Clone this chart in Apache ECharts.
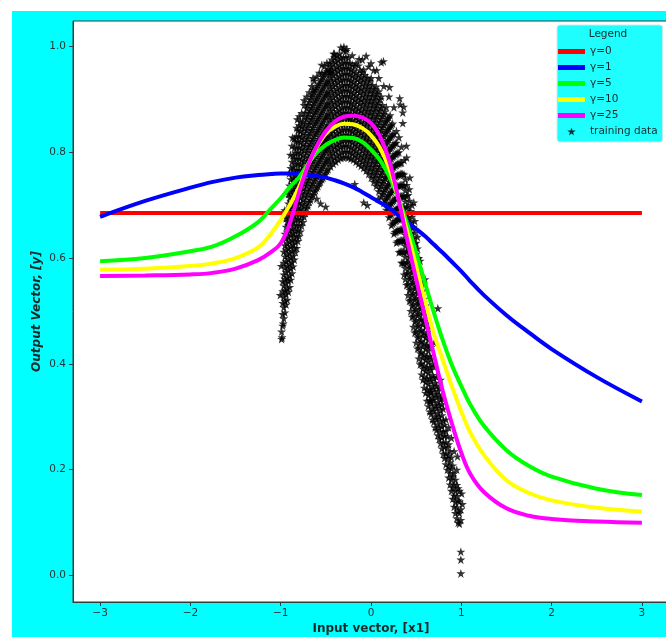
<!DOCTYPE html>
<html>
<head>
<meta charset="utf-8">
<script src="https://cdn.jsdelivr.net/npm/echarts@6/dist/echarts.min.js"></script>
<style>
  html, body { margin: 0; padding: 0; background: #ffffff; overflow: hidden; width: 666px; height: 637px; }
  #chart { position: absolute; left: 12px; top: 11px; width: 660px; height: 626px; background: #00ffff; }
</style>
</head>
<body>
<div id="chart"></div>
<script>
// Model outputs evaluated on a grid of x1 values
const xGrid = [-3, -2.5, -2, -1.75, -1.5, -1.25, -1.1, -1.0, -0.9, -0.8, -0.7, -0.6, -0.5, -0.4, -0.3, -0.2, -0.1, 0, 0.1, 0.2, 0.3, 0.4, 0.5, 0.6, 0.7, 0.8, 0.9, 1.0, 1.1, 1.25, 1.5, 1.75, 2, 2.5, 3];
const xEnds = [-3, 3];
const gamma0 = [0.685, 0.685];
const gamma1 = [0.678, 0.708, 0.733, 0.744, 0.752, 0.757, 0.759, 0.760, 0.760, 0.759, 0.757, 0.755, 0.752, 0.747, 0.741, 0.734, 0.725, 0.715, 0.705, 0.695, 0.681, 0.668, 0.655, 0.641, 0.625, 0.609, 0.592, 0.575, 0.556, 0.530, 0.492, 0.459, 0.428, 0.375, 0.329];
const gamma5 = [0.594, 0.600, 0.613, 0.622, 0.641, 0.668, 0.695, 0.713, 0.734, 0.752, 0.777, 0.799, 0.814, 0.823, 0.828, 0.827, 0.820, 0.805, 0.785, 0.755, 0.715, 0.665, 0.610, 0.552, 0.495, 0.442, 0.396, 0.358, 0.323, 0.283, 0.237, 0.207, 0.187, 0.164, 0.152];
const gamma10 = [0.578, 0.580, 0.585, 0.590, 0.600, 0.620, 0.648, 0.672, 0.700, 0.733, 0.775, 0.810, 0.835, 0.848, 0.854, 0.853, 0.846, 0.832, 0.808, 0.770, 0.715, 0.650, 0.585, 0.518, 0.455, 0.405, 0.355, 0.310, 0.270, 0.228, 0.180, 0.156, 0.142, 0.128, 0.121];
const gamma25 = [0.566, 0.567, 0.569, 0.572, 0.580, 0.596, 0.612, 0.628, 0.665, 0.722, 0.774, 0.812, 0.840, 0.858, 0.867, 0.869, 0.866, 0.855, 0.830, 0.785, 0.715, 0.635, 0.560, 0.487, 0.415, 0.345, 0.285, 0.232, 0.192, 0.158, 0.127, 0.113, 0.107, 0.102, 0.100];

// Training samples, grouped by x1 value: [x1, [y, y, ...]]
const trainingColumns = [
  [-0.990, [0.447, 0.461]],
  [-0.978, [0.472, 0.494, 0.515, 0.537, 0.556]],
  [-0.966, [0.486, 0.507, 0.527, 0.548, 0.569, 0.591, 0.612]],
  [-0.953, [0.497, 0.519, 0.539, 0.561, 0.582, 0.603, 0.624, 0.646]],
  [-0.940, [0.512, 0.532, 0.553, 0.574, 0.594, 0.616, 0.637, 0.659, 0.675]],
  [-0.927, [0.521, 0.543, 0.563, 0.585, 0.607, 0.628, 0.648, 0.669, 0.691]],
  [-0.914, [0.536, 0.557, 0.578, 0.598, 0.619, 0.641, 0.662, 0.682, 0.703, 0.721]],
  [-0.901, [0.545, 0.567, 0.589, 0.610, 0.631, 0.652, 0.673, 0.694, 0.715, 0.737]],
  [-0.888, [0.559, 0.581, 0.601, 0.622, 0.644, 0.665, 0.686, 0.707, 0.727, 0.749, 0.770]],
  [-0.875, [0.571, 0.592, 0.613, 0.634, 0.655, 0.676, 0.697, 0.718, 0.740, 0.761, 0.782, 0.812]],
  [-0.862, [0.584, 0.604, 0.626, 0.647, 0.668, 0.689, 0.710, 0.731, 0.752, 0.773, 0.794]],
  [-0.849, [0.597, 0.619, 0.640, 0.661, 0.682, 0.703, 0.724, 0.745, 0.766, 0.787, 0.808, 0.826]],
  [-0.836, [0.611, 0.631, 0.652, 0.673, 0.694, 0.715, 0.736, 0.757, 0.778, 0.799, 0.820]],
  [-0.823, [0.619, 0.641, 0.662, 0.683, 0.704, 0.725, 0.746, 0.767, 0.788, 0.809, 0.830, 0.846]],
  [-0.810, [0.632, 0.652, 0.673, 0.694, 0.715, 0.736, 0.757, 0.778, 0.799, 0.820, 0.841]],
  [-0.796, [0.641, 0.662, 0.683, 0.704, 0.725, 0.746, 0.767, 0.788, 0.809, 0.830, 0.851, 0.868]],
  [-0.782, [0.650, 0.672, 0.693, 0.714, 0.735, 0.756, 0.777, 0.798, 0.819, 0.840, 0.858]],
  [-0.768, [0.661, 0.681, 0.702, 0.723, 0.744, 0.765, 0.786, 0.807, 0.828, 0.849, 0.874]],
  [-0.754, [0.668, 0.690, 0.711, 0.732, 0.753, 0.774, 0.795, 0.816, 0.837, 0.858]],
  [-0.740, [0.678, 0.699, 0.720, 0.741, 0.762, 0.783, 0.804, 0.825, 0.846, 0.867, 0.889]],
  [-0.726, [0.685, 0.707, 0.728, 0.749, 0.770, 0.791, 0.812, 0.833, 0.854, 0.875]],
  [-0.712, [0.694, 0.715, 0.736, 0.757, 0.778, 0.799, 0.820, 0.841, 0.862, 0.883, 0.905]],
  [-0.698, [0.699, 0.721, 0.742, 0.763, 0.784, 0.805, 0.826, 0.847, 0.868, 0.889]],
  [-0.684, [0.706, 0.727, 0.748, 0.769, 0.790, 0.811, 0.832, 0.853, 0.874, 0.895, 0.913]],
  [-0.670, [0.710, 0.732, 0.753, 0.774, 0.795, 0.816, 0.837, 0.858, 0.879, 0.900]],
  [-0.656, [0.716, 0.737, 0.758, 0.779, 0.800, 0.821, 0.842, 0.863, 0.884, 0.905, 0.925]],
  [-0.642, [0.719, 0.741, 0.762, 0.783, 0.804, 0.825, 0.846, 0.867, 0.888, 0.909, 0.918]],
  [-0.628, [0.725, 0.746, 0.767, 0.788, 0.809, 0.830, 0.851, 0.872, 0.893, 0.914, 0.935]],
  [-0.614, [0.728, 0.750, 0.771, 0.792, 0.813, 0.834, 0.855, 0.876, 0.897, 0.918]],
  [-0.600, [0.733, 0.754, 0.775, 0.796, 0.817, 0.838, 0.859, 0.880, 0.901, 0.922, 0.943]],
  [-0.586, [0.736, 0.758, 0.779, 0.800, 0.821, 0.842, 0.863, 0.884, 0.905, 0.926]],
  [-0.572, [0.741, 0.762, 0.783, 0.804, 0.825, 0.846, 0.867, 0.888, 0.909, 0.930, 0.950]],
  [-0.558, [0.703, 0.744, 0.766, 0.787, 0.808, 0.829, 0.850, 0.871, 0.892, 0.913, 0.934]],
  [-0.544, [0.749, 0.770, 0.791, 0.812, 0.833, 0.854, 0.875, 0.896, 0.917, 0.938, 0.950]],
  [-0.530, [0.752, 0.774, 0.795, 0.816, 0.837, 0.858, 0.879, 0.900, 0.921, 0.942]],
  [-0.516, [0.757, 0.778, 0.799, 0.820, 0.841, 0.862, 0.883, 0.904, 0.925, 0.946, 0.963]],
  [-0.502, [0.697, 0.760, 0.782, 0.803, 0.824, 0.845, 0.866, 0.887, 0.908, 0.929, 0.950]],
  [-0.488, [0.765, 0.786, 0.807, 0.828, 0.849, 0.870, 0.891, 0.912, 0.933, 0.954, 0.969]],
  [-0.474, [0.768, 0.789, 0.810, 0.831, 0.852, 0.873, 0.894, 0.915, 0.936, 0.957]],
  [-0.460, [0.779, 0.800, 0.821, 0.842, 0.863, 0.884, 0.905, 0.926, 0.947, 0.968]],
  [-0.446, [0.773, 0.794, 0.815, 0.836, 0.857, 0.878, 0.899, 0.920, 0.941, 0.962, 0.952]],
  [-0.432, [0.786, 0.807, 0.828, 0.849, 0.870, 0.891, 0.912, 0.933, 0.954, 0.975]],
  [-0.418, [0.778, 0.799, 0.820, 0.841, 0.862, 0.883, 0.904, 0.925, 0.946, 0.967]],
  [-0.404, [0.790, 0.811, 0.832, 0.853, 0.874, 0.895, 0.916, 0.937, 0.958, 0.979, 0.986]],
  [-0.390, [0.782, 0.803, 0.824, 0.845, 0.866, 0.887, 0.908, 0.929, 0.950, 0.971]],
  [-0.376, [0.794, 0.815, 0.836, 0.857, 0.878, 0.899, 0.920, 0.941, 0.962, 0.983]],
  [-0.362, [0.786, 0.807, 0.828, 0.849, 0.870, 0.891, 0.912, 0.933, 0.954, 0.975]],
  [-0.348, [0.797, 0.818, 0.839, 0.860, 0.881, 0.902, 0.923, 0.944, 0.965, 0.986]],
  [-0.334, [0.789, 0.810, 0.831, 0.852, 0.873, 0.894, 0.915, 0.936, 0.957, 0.978, 0.998]],
  [-0.320, [0.800, 0.821, 0.842, 0.863, 0.884, 0.905, 0.926, 0.947, 0.968]],
  [-0.306, [0.790, 0.811, 0.832, 0.853, 0.874, 0.895, 0.916, 0.937, 0.958, 0.979, 0.993]],
  [-0.292, [0.801, 0.822, 0.843, 0.864, 0.885, 0.906, 0.927, 0.948, 0.969]],
  [-0.278, [0.791, 0.812, 0.833, 0.854, 0.875, 0.896, 0.917, 0.938, 0.959, 0.980, 0.991]],
  [-0.264, [0.801, 0.822, 0.843, 0.864, 0.885, 0.906, 0.927, 0.948, 0.969]],
  [-0.250, [0.790, 0.811, 0.832, 0.853, 0.874, 0.895, 0.916, 0.937, 0.958, 0.979]],
  [-0.236, [0.800, 0.821, 0.842, 0.863, 0.884, 0.905, 0.926, 0.947, 0.968]],
  [-0.222, [0.788, 0.809, 0.830, 0.851, 0.872, 0.893, 0.914, 0.935, 0.956]],
  [-0.208, [0.798, 0.819, 0.840, 0.861, 0.882, 0.903, 0.924, 0.945, 0.966, 0.983]],
  [-0.194, [0.786, 0.807, 0.828, 0.849, 0.870, 0.891, 0.912, 0.933, 0.954]],
  [-0.180, [0.795, 0.816, 0.837, 0.858, 0.879, 0.900, 0.921, 0.942, 0.963]],
  [-0.166, [0.782, 0.803, 0.824, 0.845, 0.866, 0.887, 0.908, 0.929, 0.950, 0.968]],
  [-0.152, [0.791, 0.812, 0.833, 0.854, 0.875, 0.896, 0.917, 0.938]],
  [-0.138, [0.778, 0.799, 0.820, 0.841, 0.862, 0.883, 0.904, 0.925, 0.946, 0.964]],
  [-0.124, [0.787, 0.808, 0.829, 0.850, 0.871, 0.892, 0.913, 0.934, 0.955]],
  [-0.110, [0.774, 0.795, 0.816, 0.837, 0.858, 0.879, 0.900, 0.921, 0.942]],
  [-0.096, [0.783, 0.804, 0.825, 0.846, 0.867, 0.888, 0.909, 0.930, 0.951, 0.975]],
  [-0.082, [0.770, 0.791, 0.812, 0.833, 0.854, 0.875, 0.896, 0.917, 0.938, 0.956]],
  [-0.068, [0.778, 0.799, 0.820, 0.841, 0.862, 0.883, 0.904, 0.925, 0.946]],
  [-0.054, [0.765, 0.786, 0.807, 0.828, 0.849, 0.870, 0.891, 0.912, 0.933, 0.982]],
  [-0.040, [0.700, 0.773, 0.794, 0.815, 0.836, 0.857, 0.878, 0.899, 0.920, 0.941]],
  [-0.026, [0.759, 0.780, 0.801, 0.822, 0.843, 0.864, 0.885, 0.906, 0.927, 0.962]],
  [-0.012, [0.767, 0.788, 0.809, 0.830, 0.851, 0.872, 0.893, 0.914, 0.935]],
  [0.002, [0.752, 0.773, 0.794, 0.815, 0.836, 0.857, 0.878, 0.899, 0.920, 0.940]],
  [0.016, [0.759, 0.780, 0.801, 0.822, 0.843, 0.864, 0.885, 0.906, 0.927]],
  [0.030, [0.744, 0.765, 0.786, 0.807, 0.828, 0.849, 0.870, 0.891, 0.912, 0.955]],
  [0.044, [0.751, 0.772, 0.793, 0.814, 0.835, 0.856, 0.877, 0.898, 0.919]],
  [0.058, [0.736, 0.757, 0.778, 0.799, 0.820, 0.841, 0.862, 0.883, 0.904, 0.924]],
  [0.072, [0.742, 0.763, 0.784, 0.805, 0.826, 0.847, 0.868, 0.889, 0.910]],
  [0.086, [0.726, 0.747, 0.768, 0.789, 0.810, 0.831, 0.852, 0.873, 0.894, 0.915, 0.940]],
  [0.100, [0.732, 0.753, 0.774, 0.795, 0.816, 0.837, 0.858, 0.879, 0.900]],
  [0.114, [0.716, 0.737, 0.758, 0.779, 0.800, 0.821, 0.842, 0.863, 0.884, 0.905, 0.970]],
  [0.128, [0.721, 0.742, 0.763, 0.784, 0.805, 0.826, 0.847, 0.868, 0.889]],
  [0.142, [0.704, 0.725, 0.746, 0.767, 0.788, 0.809, 0.830, 0.851, 0.872, 0.925]],
  [0.156, [0.709, 0.730, 0.751, 0.772, 0.793, 0.814, 0.835, 0.856, 0.877]],
  [0.170, [0.691, 0.712, 0.733, 0.754, 0.775, 0.796, 0.817, 0.838, 0.859, 0.885]],
  [0.184, [0.695, 0.716, 0.737, 0.758, 0.779, 0.800, 0.821, 0.842, 0.863]],
  [0.198, [0.677, 0.698, 0.719, 0.740, 0.761, 0.782, 0.803, 0.824, 0.845, 0.866, 0.905]],
  [0.212, [0.681, 0.702, 0.723, 0.744, 0.765, 0.786, 0.807, 0.828, 0.849, 0.870]],
  [0.226, [0.662, 0.683, 0.704, 0.725, 0.746, 0.767, 0.788, 0.809, 0.830, 0.851]],
  [0.240, [0.665, 0.686, 0.707, 0.728, 0.749, 0.770, 0.791, 0.812, 0.833, 0.854]],
  [0.254, [0.646, 0.667, 0.688, 0.709, 0.730, 0.751, 0.772, 0.793, 0.814, 0.835, 0.885]],
  [0.268, [0.649, 0.670, 0.691, 0.712, 0.733, 0.754, 0.775, 0.796, 0.817]],
  [0.282, [0.629, 0.650, 0.671, 0.692, 0.713, 0.734, 0.755, 0.776, 0.797, 0.818, 0.840]],
  [0.296, [0.631, 0.652, 0.673, 0.694, 0.715, 0.736, 0.757, 0.778, 0.799]],
  [0.310, [0.611, 0.632, 0.653, 0.674, 0.695, 0.716, 0.737, 0.758, 0.779, 0.800, 0.828]],
  [0.324, [0.612, 0.633, 0.654, 0.675, 0.696, 0.717, 0.738, 0.759, 0.780, 0.890]],
  [0.338, [0.591, 0.612, 0.633, 0.654, 0.675, 0.696, 0.717, 0.738, 0.759, 0.780, 0.810]],
  [0.352, [0.591, 0.612, 0.633, 0.654, 0.675, 0.696, 0.717, 0.738, 0.759, 0.855, 0.875]],
  [0.366, [0.569, 0.590, 0.611, 0.632, 0.653, 0.674, 0.695, 0.716, 0.737, 0.758, 0.785]],
  [0.380, [0.560, 0.581, 0.602, 0.623, 0.644, 0.665, 0.686, 0.707, 0.728, 0.749]],
  [0.395, [0.549, 0.570, 0.591, 0.612, 0.633, 0.654, 0.675, 0.696, 0.717, 0.738, 0.790]],
  [0.410, [0.530, 0.551, 0.572, 0.593, 0.614, 0.635, 0.656, 0.677, 0.698, 0.719]],
  [0.425, [0.519, 0.540, 0.561, 0.582, 0.603, 0.624, 0.645, 0.666, 0.687, 0.708, 0.730]],
  [0.440, [0.500, 0.521, 0.542, 0.563, 0.584, 0.605, 0.626, 0.647, 0.668, 0.689]],
  [0.455, [0.489, 0.510, 0.531, 0.552, 0.573, 0.594, 0.615, 0.636, 0.657, 0.678, 0.700]],
  [0.470, [0.470, 0.491, 0.512, 0.533, 0.554, 0.575, 0.596, 0.617, 0.638, 0.659]],
  [0.485, [0.459, 0.480, 0.501, 0.522, 0.543, 0.564, 0.585, 0.606, 0.627, 0.648, 0.670]],
  [0.500, [0.440, 0.461, 0.482, 0.503, 0.524, 0.545, 0.566, 0.587, 0.608, 0.629]],
  [0.515, [0.429, 0.450, 0.471, 0.492, 0.513, 0.534, 0.555, 0.576, 0.597, 0.618, 0.640]],
  [0.530, [0.410, 0.431, 0.452, 0.473, 0.494, 0.515, 0.536, 0.557, 0.578, 0.600]],
  [0.545, [0.399, 0.420, 0.441, 0.462, 0.483, 0.504, 0.525, 0.546, 0.567, 0.595]],
  [0.560, [0.380, 0.401, 0.422, 0.443, 0.464, 0.485, 0.506, 0.527, 0.548]],
  [0.575, [0.370, 0.391, 0.412, 0.433, 0.454, 0.475, 0.496, 0.517, 0.538, 0.555]],
  [0.590, [0.355, 0.376, 0.397, 0.418, 0.439, 0.460, 0.481, 0.502, 0.523]],
  [0.605, [0.345, 0.366, 0.387, 0.408, 0.429, 0.450, 0.471, 0.492, 0.510]],
  [0.620, [0.330, 0.351, 0.372, 0.393, 0.414, 0.435, 0.456, 0.477]],
  [0.635, [0.320, 0.341, 0.362, 0.383, 0.404, 0.425, 0.446, 0.467]],
  [0.650, [0.310, 0.331, 0.352, 0.373, 0.394, 0.415, 0.436]],
  [0.665, [0.305, 0.326, 0.347, 0.368, 0.389, 0.410, 0.432]],
  [0.680, [0.295, 0.316, 0.337, 0.358, 0.379, 0.400]],
  [0.695, [0.290, 0.311, 0.332, 0.353, 0.374, 0.395]],
  [0.710, [0.280, 0.301, 0.322, 0.343, 0.364]],
  [0.725, [0.275, 0.296, 0.317, 0.338, 0.359, 0.375]],
  [0.740, [0.265, 0.286, 0.307, 0.328, 0.349, 0.505]],
  [0.755, [0.258, 0.279, 0.300, 0.321, 0.342, 0.355]],
  [0.770, [0.250, 0.271, 0.292, 0.313, 0.334]],
  [0.785, [0.240, 0.261, 0.282, 0.303, 0.324, 0.335]],
  [0.800, [0.230, 0.251, 0.272, 0.293, 0.315]],
  [0.815, [0.222, 0.243, 0.264, 0.285]],
  [0.830, [0.210, 0.231, 0.252, 0.273, 0.295]],
  [0.845, [0.200, 0.221, 0.242, 0.263]],
  [0.860, [0.185, 0.206, 0.227, 0.248, 0.280]],
  [0.875, [0.172, 0.193, 0.214, 0.235]],
  [0.890, [0.160, 0.181, 0.202, 0.223, 0.260]],
  [0.905, [0.145, 0.166, 0.187, 0.208]],
  [0.920, [0.130, 0.151, 0.172, 0.193, 0.235]],
  [0.935, [0.118, 0.139, 0.160, 0.181]],
  [0.950, [0.108, 0.129, 0.150, 0.171, 0.200]],
  [0.965, [0.100, 0.121, 0.142, 0.165]],
  [0.980, [0.098, 0.118, 0.140, 0.160]],
  [0.995, [0.004, 0.030, 0.045, 0.105, 0.125]]
];
// Samples lying away from the main band
const trainingStrays = [
  [-0.985, 0.450], [-0.972, 0.476], [-1.005, 0.530], [-0.995, 0.585], [-0.955, 0.690],
  [-0.905, 0.760], [-0.892, 0.795], [-0.868, 0.828], [-0.816, 0.862], [-0.74, 0.898],
  [-0.642, 0.940], [-0.545, 0.965], [-0.452, 0.952], [-0.415, 0.986], [-0.300, 0.999],
  [-0.268, 0.995], [-0.132, 0.976], [0.000, 0.968], [0.138, 0.972], [0.063, 0.955],
  [0.205, 0.923], [0.318, 0.902], [0.362, 0.886], [0.392, 0.812], [0.430, 0.752],
  [0.474, 0.705], [0.660, 0.346], [0.662, 0.330], [0.598, 0.560], [0.700, 0.440],
  [0.770, 0.370], [0.958, 0.225], [1.012, 0.135], [1.004, 0.155], [-0.080, 0.705],
  [-0.600, 0.712], [-0.180, 0.740], [0.080, 0.712]
];

const xTicks = [-3, -2, -1, 0, 1, 2, 3];
const yTicks = [0, 0.2, 0.4, 0.6, 0.8, 1.0];
const seriesNames = ['\u03b3=0', '\u03b3=1', '\u03b3=5', '\u03b3=10', '\u03b3=25'];
const seriesColors = ['#ff0000', '#0000ff', '#00ff00', '#ffff00', '#ff00ff'];

const STAR = 'path://M1,0L1.2245,0.691L1.951,0.691L1.363,1.118L1.588,1.809L1,1.382L0.412,1.809L0.637,1.118L0.049,0.691L0.7755,0.691Z';
const BAR = 'path://M0,0H27V5H0Z';
const FONT = 'DejaVu Sans';
const TXT = '#263838';

function pairs(xs, ys) { return xs.map((x, i) => [x, ys[i]]); }
const trainingPoints = [];
trainingColumns.forEach(([x, ys]) => ys.forEach(y => trainingPoints.push([x, y])));
trainingStrays.forEach(p => trainingPoints.push(p));

const fmtMinus = v => (v < 0 ? '\u2212' + Math.abs(v) : String(v));

const curves = [gamma0, gamma1, gamma5, gamma10, gamma25];
const lineSeries = curves.map((ys, i) => ({
  name: seriesNames[i],
  type: 'line',
  data: i === 0 ? pairs(xEnds, ys) : pairs(xGrid, ys),
  symbol: 'none',
  smooth: 0.4,
  lineStyle: { color: seriesColors[i], width: 4 },
  itemStyle: { color: seriesColors[i] },
  z: 3 + i,
  silent: true
}));

const chart = echarts.init(document.getElementById('chart'), null, { renderer: 'canvas', width: 660, height: 626 });
chart.setOption({
  animation: false,
  backgroundColor: 'transparent',
  grid: {
    left: 61, width: 596, top: 10, height: 581,
    outerBoundsMode: 'none',
    show: true, backgroundColor: '#ffffff', borderColor: '#2f3f3f', borderWidth: 1
  },
  xAxis: {
    type: 'value', min: -3.3, max: 3.3,
    name: 'Input vector, [x1]', nameLocation: 'middle', nameGap: 21, nameMoveOverlap: false,
    nameTextStyle: { fontFamily: FONT, fontSize: 12, fontWeight: 'bold', color: '#1a2a2a' },
    axisLine: { show: true, onZero: false, lineStyle: { color: '#2f3f3f', width: 1 } },
    axisTick: { show: true, length: 4, customValues: xTicks, lineStyle: { color: '#2f3f3f' } },
    axisLabel: { customValues: xTicks, formatter: fmtMinus, fontFamily: FONT, fontSize: 10.5, color: TXT, margin: 6 },
    splitLine: { show: false }
  },
  yAxis: {
    type: 'value', min: -0.05, max: 1.048,
    name: 'Output Vector, [y]', nameLocation: 'middle', nameGap: 30, nameRotate: 90, nameMoveOverlap: false,
    nameTextStyle: { fontFamily: FONT, fontSize: 12, fontWeight: 'bold', fontStyle: 'italic', color: '#1a2a2a' },
    axisLine: { show: true, onZero: false, lineStyle: { color: '#2f3f3f', width: 1 } },
    axisTick: { show: true, length: 4, customValues: yTicks, lineStyle: { color: '#2f3f3f' } },
    axisLabel: { customValues: yTicks, formatter: v => v.toFixed(1), fontFamily: FONT, fontSize: 10.5, color: TXT, margin: 7 },
    splitLine: { show: false }
  },
  legend: {
    orient: 'vertical', left: 545, top: 14,
    padding: [21, 5, 5, 1],
    itemWidth: 27, itemHeight: 8, itemGap: 5,
    backgroundColor: '#1efefe', borderColor: '#cfe8e8', borderWidth: 1, borderRadius: 3,
    textStyle: { fontFamily: FONT, fontSize: 10.5, color: '#1a2a2a' },
    data: seriesNames.map(n => ({ name: n, icon: BAR })).concat([{ name: 'training data', icon: STAR }]),
    selectedMode: false
  },
  graphic: [{
    type: 'text', x: 596, y: 23, z: 100,
    style: { text: 'Legend', font: '10.5px "DejaVu Sans"', fill: '#1a2a2a', align: 'center', verticalAlign: 'middle' }
  }],
  series: [{
    name: 'training data',
    type: 'scatter',
    data: trainingPoints,
    symbol: STAR,
    symbolSize: 9,
    itemStyle: { color: '#000000' },
    z: 2,
    silent: true
  }].concat(lineSeries)
});
</script>
</body>
</html>
